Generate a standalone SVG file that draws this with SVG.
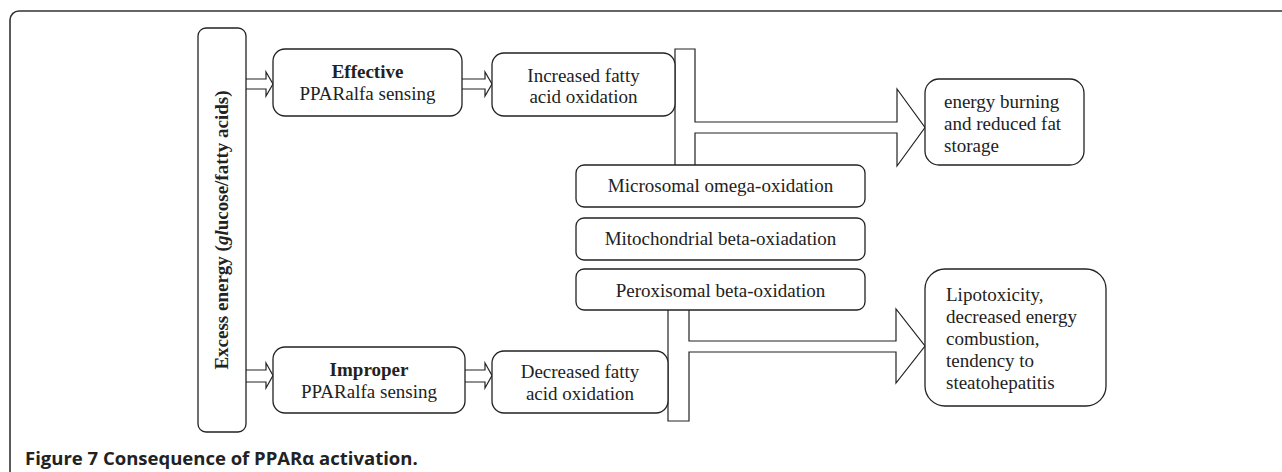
<svg xmlns="http://www.w3.org/2000/svg" width="1282" height="472" viewBox="0 0 1282 472">
<style>
.box{fill:#fff;stroke:#222;stroke-width:1.3}
.t{font-family:"Liberation Serif","Times New Roman",serif;font-size:19px;fill:#222}
.c{text-anchor:middle}
.b{font-weight:bold}
.arr{fill:#fff;stroke:#222;stroke-width:1.2;stroke-linejoin:miter}
.frame{fill:none;stroke:#333;stroke-width:1.6}
.cap{font-family:"Open Sans","Liberation Sans",sans-serif;font-size:18.5px;font-weight:bold;fill:#222}
</style>
<rect class="frame" x="10" y="11" width="1300" height="500" rx="9"/>
<g id="connectors">
<path class="arr" d="M246,79 H266 V72 L273,84 L266,96 V89 H246"/>
<path class="arr" d="M462,79 H485 V72 L492,84 L485,96 V89 H462"/>
<path class="arr" d="M246,370 H266 V363 L273,375.5 L266,388 V382 H246"/>
<path class="arr" d="M465,370 H485 V363 L492,375.5 L485,388 V382 H465"/>
<path class="arr" d="M675,165 V49 H695 V122 H897 V89 L925,127.5 L897,166 V133 H695 V165"/>
<path class="arr" d="M668,310 V421 H689 V352 H896 V383 L925,346 L896,309 V341 H689 V310"/>
</g>
<g id="excess">
<rect class="box" x="198" y="28" width="48" height="404" rx="8"/>
<text class="t b c" transform="translate(228,230) rotate(-90)" x="0" y="0">Excess energy (<tspan font-style="italic">gl</tspan>ucose/fatty acids)</text>
</g>
<g id="effective">
<rect class="box" x="273" y="49" width="189" height="67" rx="12"/>
<text class="t c" x="367.5" y="78"><tspan class="b">Effective</tspan><tspan x="367.5" y="100">PPARalfa sensing</tspan></text>
</g>
<g id="increased">
<rect class="box" x="492" y="53" width="183" height="63" rx="12"/>
<text class="t c" x="583.5" y="82">Increased fatty<tspan x="583.5" y="103">acid oxidation</tspan></text>
</g>
<g id="improper">
<rect class="box" x="273" y="347" width="192" height="66" rx="12"/>
<text class="t c" x="369" y="376"><tspan class="b">Improper</tspan><tspan x="369" y="398">PPARalfa sensing</tspan></text>
</g>
<g id="decreased">
<rect class="box" x="492" y="351" width="176" height="62" rx="12"/>
<text class="t c" x="580" y="378">Decreased fatty<tspan x="580" y="400">acid oxidation</tspan></text>
</g>
<g id="microsomal">
<rect class="box" x="576" y="165" width="289" height="42" rx="8"/>
<text class="t c" x="720.5" y="192">Microsomal omega-oxidation</text>
</g>
<g id="mitochondrial">
<rect class="box" x="576" y="218" width="289" height="42" rx="8"/>
<text class="t c" x="720.5" y="245">Mitochondrial beta-oxiadation</text>
</g>
<g id="peroxisomal">
<rect class="box" x="576" y="269" width="289" height="41" rx="8"/>
<text class="t c" x="720.5" y="297">Peroxisomal beta-oxidation</text>
</g>
<g id="energy">
<rect class="box" x="925" y="79" width="159" height="86" rx="14"/>
<text class="t" x="944" y="108">energy burning<tspan x="944" y="130">and reduced fat</tspan><tspan x="944" y="152">storage</tspan></text>
</g>
<g id="lipotoxicity">
<rect class="box" x="925" y="269" width="181" height="137" rx="20"/>
<text class="t" x="946" y="301">Lipotoxicity,<tspan x="946" y="323">decreased energy</tspan><tspan x="946" y="345">combustion,</tspan><tspan x="946" y="367">tendency to</tspan><tspan x="946" y="389">steatohepatitis</tspan></text>
</g>
<text class="cap" x="25" y="465">Figure 7 <tspan>Consequence of PPARα activation.</tspan></text>
</svg>
